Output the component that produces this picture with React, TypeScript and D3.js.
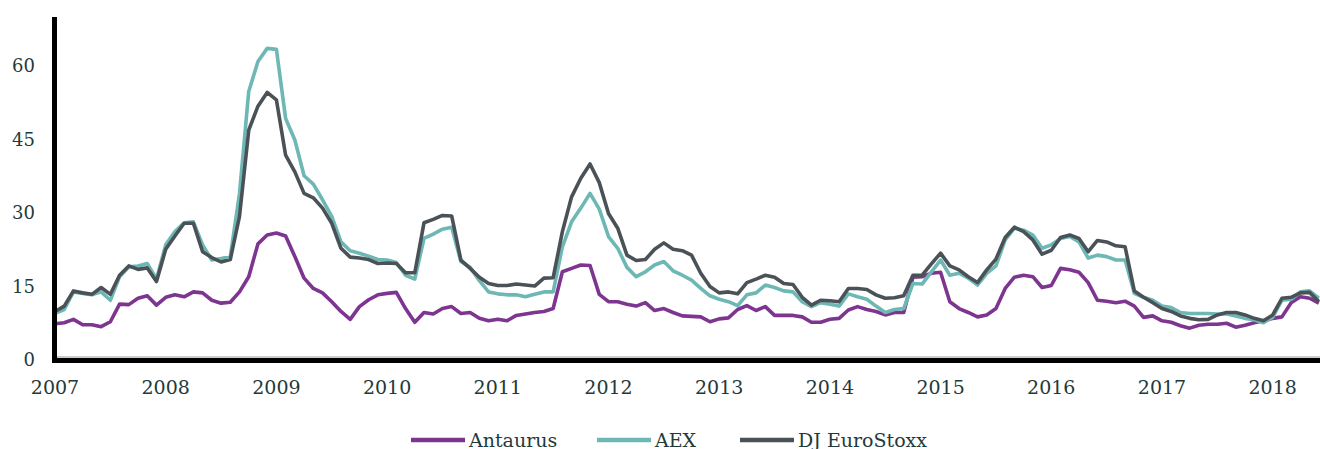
import { useEffect, useRef } from "react";
import * as d3 from "d3";

// monthly observations, Jan 2007 .. Jun 2018
const startYear = 2007;
const monthCount = 138;

const antaurus = [
  7.4, 7.6, 8.3, 7.2, 7.2, 6.8, 7.8, 11.4, 11.3, 12.6,
  13.1, 11.2, 12.8, 13.3, 12.9, 13.9, 13.7, 12.2, 11.6, 11.8,
  13.9, 17.0, 23.7, 25.5, 25.9, 25.3, 21.1, 16.7, 14.6, 13.7,
  11.9, 9.9, 8.3, 10.9, 12.3, 13.3, 13.6, 13.8, 10.5, 7.7,
  9.7, 9.4, 10.5, 10.9, 9.5, 9.7, 8.5, 8.0, 8.3, 8.0,
  9.1, 9.4, 9.7, 9.9, 10.5, 18.0, 18.7, 19.4, 19.3, 13.4,
  11.9, 11.9, 11.4, 11.0, 11.7, 10.1, 10.5, 9.7, 9.0, 8.9,
  8.8, 7.8, 8.4, 8.6, 10.3, 11.1, 10.1, 10.9, 9.1, 9.1,
  9.1, 8.8, 7.7, 7.7, 8.3, 8.5, 10.2, 10.9, 10.3, 9.9,
  9.2, 9.7, 9.7, 16.9, 17.0, 17.7, 17.9, 11.9, 10.5, 9.7,
  8.8, 9.2, 10.5, 14.6, 16.9, 17.3, 17.0, 14.8, 15.2, 18.7,
  18.4, 17.9, 15.8, 12.2, 12.0, 11.7, 12.0, 11.0, 8.7, 9.0,
  8.0, 7.7, 7.0, 6.5, 7.1, 7.3, 7.3, 7.5, 6.7, 7.1,
  7.6, 8.0, 8.5, 8.8, 11.7, 12.9, 12.6, 11.6,
];

const aex = [
  9.5, 10.3, 13.9, 13.6, 13.3, 13.9, 12.2, 17.0, 19.0, 19.2,
  19.7, 16.5, 23.5, 26.2, 28.0, 28.2, 23.5, 20.4, 20.7, 21.1,
  34.0, 54.8, 60.9, 63.6, 63.4, 49.3, 44.9, 37.6, 35.9, 32.7,
  29.3, 24.1, 22.3, 21.8, 21.2, 20.5, 20.4, 19.9, 17.3, 16.5,
  24.8, 25.7, 26.7, 27.1, 20.1, 18.9, 16.2, 13.9, 13.5, 13.3,
  13.3, 12.9, 13.4, 13.9, 13.9, 23.1, 28.2, 31.0, 34.0, 30.8,
  25.2, 22.8, 18.9, 17.0, 18.0, 19.4, 20.1, 18.2, 17.3, 16.3,
  14.6, 13.1, 12.4, 11.9, 11.1, 13.3, 13.7, 15.3, 14.8, 14.1,
  13.9, 11.9, 10.9, 11.7, 11.4, 11.0, 13.5, 12.9, 12.4, 11.0,
  9.7, 10.3, 10.5, 15.6, 15.5, 18.0, 20.4, 17.3, 17.7, 16.7,
  15.3, 17.7, 19.2, 24.5, 26.9, 26.5, 25.5, 22.8, 23.5, 24.8,
  25.2, 24.1, 20.8, 21.4, 21.1, 20.4, 20.4, 13.6, 12.8, 12.2,
  11.0, 10.7, 9.7, 9.5, 9.5, 9.5, 9.4, 9.4, 9.0, 8.5,
  8.2, 7.6, 8.7, 12.2, 12.4, 13.9, 14.1, 12.6,
];

const djEuroStoxx = [
  9.9, 11.0, 14.1, 13.7, 13.4, 14.8, 13.4, 17.3, 19.2, 18.5,
  18.8, 16.0, 22.6, 25.3, 27.9, 27.9, 22.1, 20.9, 20.0, 20.5,
  29.3, 46.9, 51.8, 54.6, 53.1, 41.8, 38.4, 34.0, 33.1, 31.0,
  27.9, 22.8, 21.0, 20.8, 20.5, 19.7, 19.8, 19.7, 17.8, 17.8,
  28.0, 28.7, 29.5, 29.4, 20.4, 18.7, 16.9, 15.6, 15.2, 15.2,
  15.5, 15.3, 15.1, 16.7, 16.8, 26.2, 33.3, 37.1, 40.0, 36.2,
  29.9, 26.9, 21.4, 20.3, 20.5, 22.6, 23.9, 22.6, 22.3, 21.4,
  17.7, 15.0, 13.7, 13.9, 13.5, 15.8, 16.5, 17.3, 16.9, 15.6,
  15.4, 12.8, 11.2, 12.2, 12.1, 11.9, 14.6, 14.6, 14.4, 13.3,
  12.6, 12.7, 13.1, 17.3, 17.3, 19.6, 21.8, 19.2, 18.4, 17.0,
  15.8, 18.4, 20.6, 25.0, 27.1, 26.2, 24.5, 21.6, 22.4, 25.0,
  25.5, 24.8, 22.1, 24.4, 24.1, 23.3, 23.1, 14.1, 12.8, 11.7,
  10.5, 9.9, 9.0, 8.5, 8.2, 8.3, 9.2, 9.7, 9.7, 9.2,
  8.5, 8.0, 9.2, 12.6, 12.8, 13.7, 13.8, 11.9,
];

const yearTicks = [2007, 2008, 2009, 2010, 2011, 2012, 2013, 2014, 2015, 2016, 2017, 2018];
const valueTicks = [0, 15, 30, 45, 60];

const series = [
  { name: "Antaurus", values: antaurus, color: "#7d3590" },
  { name: "AEX", values: aex, color: "#6db8b5" },
  { name: "DJ EuroStoxx", values: djEuroStoxx, color: "#4a5257" },
];

const textColor = "#1f3a3a";
const fontFamily = "Georgia, 'DejaVu Serif', serif";

const App = () => {
  const svgRef = useRef(null);
  const width = 1320;
  const height = 449;

  useEffect(() => {
    const svg = d3.select(svgRef.current);
    svg.selectAll("*").remove();

    const months = d3.range(monthCount).map((i) => startYear + i / 12);

    const x = d3
      .scaleLinear()
      .domain([startYear, startYear + (monthCount - 1) / 12])
      .range([55, 55 + 110.7 * ((monthCount - 1) / 12)]);

    const y = d3.scaleLinear().domain([0, 70]).range([360, 17]);

    // lines
    const line = d3
      .line<number>()
      .x((d, i) => x(months[i]))
      .y((d) => y(d));

    svg
      .selectAll(".series")
      .data(series)
      .enter()
      .append("path")
      .attr("class", "series")
      .attr("d", (d) => line(d.values))
      .attr("fill", "none")
      .attr("stroke", (d) => d.color)
      .attr("stroke-width", 3.6)
      .attr("stroke-linejoin", "round");

    // thin grey rule above the axis
    svg
      .append("line")
      .attr("x1", 55)
      .attr("x2", width)
      .attr("y1", 357)
      .attr("y2", 357)
      .attr("stroke", "#9a9a9a")
      .attr("stroke-width", 1);

    // axes lines
    svg
      .append("line")
      .attr("x1", 54.5)
      .attr("x2", 54.5)
      .attr("y1", 17)
      .attr("y2", 363)
      .attr("stroke", "#000")
      .attr("stroke-width", 5);
    svg
      .append("line")
      .attr("x1", 52)
      .attr("x2", width)
      .attr("y1", 360.5)
      .attr("y2", 360.5)
      .attr("stroke", "#000")
      .attr("stroke-width", 5);

    // y tick labels
    svg
      .selectAll(".ytick")
      .data(valueTicks)
      .enter()
      .append("text")
      .attr("class", "ytick")
      .attr("x", 35)
      .attr("y", (d) => y(d))
      .attr("dy", "0.35em")
      .attr("text-anchor", "end")
      .attr("font-family", fontFamily)
      .attr("font-size", 18)
      .attr("fill", textColor)
      .text((d) => d);

    // x tick labels
    svg
      .selectAll(".xtick")
      .data(yearTicks)
      .enter()
      .append("text")
      .attr("class", "xtick")
      .attr("x", (d) => x(d))
      .attr("y", 394)
      .attr("text-anchor", "middle")
      .attr("font-family", fontFamily)
      .attr("font-size", 19)
      .attr("fill", textColor)
      .text((d) => d);

    // legend
    const legendX = [411, 597, 740];
    const legend = svg
      .selectAll(".legend")
      .data(series)
      .enter()
      .append("g")
      .attr("class", "legend")
      .attr("transform", (d, i) => `translate(${legendX[i]},440)`);

    legend
      .append("line")
      .attr("x1", 0)
      .attr("x2", 54)
      .attr("stroke", (d) => d.color)
      .attr("stroke-width", 4.5);

    legend
      .append("text")
      .attr("x", 58)
      .attr("y", 6.5)
      .attr("font-family", fontFamily)
      .attr("font-size", 19)
      .attr("fill", textColor)
      .text((d) => d.name);
  }, []);

  return (
    <svg
      ref={svgRef}
      width={width}
      height={height}
      style={{ position: "absolute", left: 0, top: 0, background: "#fff" }}
    />
  );
};

export default App;
